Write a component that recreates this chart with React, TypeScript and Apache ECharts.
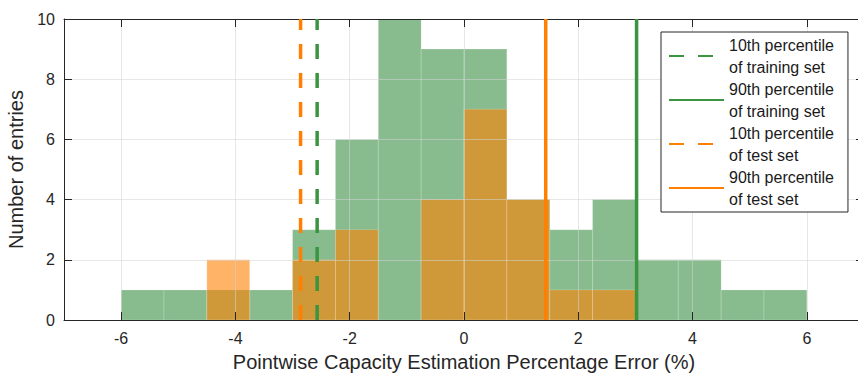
import React, { useEffect, useRef } from "react";
import * as echarts from "echarts";

// Histogram bin edges (bin width 0.75)
const binEdges = [-6, -5.25, -4.5, -3.75, -3, -2.25, -1.5, -0.75, 0, 0.75, 1.5, 2.25, 3, 3.75, 4.5, 5.25, 6];
const trainCounts = [1, 1, 1, 1, 3, 6, 10, 9, 9, 4, 3, 4, 2, 2, 1, 1];
const testCounts = [0, 0, 2, 0, 2, 3, 0, 4, 7, 4, 1, 1, 0, 0, 0, 0];

// Percentile lines
const train10 = -2.57;
const train90 = 3.02;
const test10 = -2.86;
const test90 = 1.43;

const xTicks = [-6, -4, -2, 0, 2, 4, 6];
const legendNames = [
  "10th percentile\nof training set",
  "90th percentile\nof training set",
  "10th percentile\nof test set",
  "90th percentile\nof test set",
];

const FONT = "'Liberation Sans', Arial, Helvetica, sans-serif";
const AXIS_COLOR = "#262626";
const GRID_COLOR = "rgba(212,212,212,0.55)";
const GREEN_LINE = "#3a9440";
const ORANGE_LINE = "#ff8000";

function histData(counts: number[]) {
  return counts.map((c, i) => [binEdges[i], binEdges[i + 1], c]);
}

function histSeries(name: string, counts: number[], fill: string, z: number) {
  return {
    name,
    type: "custom",
    z,
    data: histData(counts),
    encode: { x: [0, 1], y: 2 },
    renderItem: (params: any, api: any) => {
      const x0 = api.value(0);
      const x1 = api.value(1);
      const c = api.value(2);
      if (!c) return null;
      const p0 = api.coord([x0, c]);
      const p1 = api.coord([x1, 0]);
      return {
        type: "rect",
        shape: { x: p0[0], y: p0[1], width: p1[0] - p0[0], height: p1[1] - p0[1] },
        style: { fill, stroke: "rgba(255,255,255,0.18)", lineWidth: 1 },
      };
    },
  };
}

function vline(name: string, x: number, color: string, dashed: boolean) {
  return {
    name,
    type: "line",
    z: 5,
    symbol: "none",
    data: [
      [x, 0],
      [x, 10],
    ],
    lineStyle: { color, width: 3.5, type: dashed ? [15, 14] : "solid" },
    itemStyle: { color },
  };
}

export default function App() {
  const ref = useRef<HTMLDivElement>(null);
  useEffect(() => {
    if (!ref.current) return;
    const chart = echarts.init(ref.current, undefined, { renderer: "svg" });
    const tickStyle = { color: AXIS_COLOR, width: 1 };
    chart.setOption({
      animation: false,
      backgroundColor: "#ffffff",
      textStyle: { fontFamily: FONT },
      grid: { left: 64, width: 800, top: 19, bottom: 55, outerBoundsMode: "none", containLabel: false },
      xAxis: [
        {
          type: "value",
          position: "bottom",
          z: 4,
          min: -7,
          max: 7,
          name: "Pointwise Capacity Estimation Percentage Error (%)",
          nameLocation: "middle",
          nameGap: 32,
          nameTextStyle: { fontSize: 20, color: AXIS_COLOR, fontFamily: FONT },
          axisLine: { show: true, onZero: false, lineStyle: tickStyle },
          axisTick: { show: true, inside: true, length: 8, customValues: xTicks, lineStyle: tickStyle },
          axisLabel: { customValues: xTicks, fontSize: 16, color: AXIS_COLOR, margin: 10, fontFamily: FONT },
          splitLine: { show: true, lineStyle: { color: GRID_COLOR, width: 1 } },
        },
        {
          type: "value",
          position: "top",
          z: 4,
          min: -7,
          max: 7,
          axisLine: { show: true, onZero: false, lineStyle: tickStyle },
          axisTick: { show: true, inside: true, length: 8, customValues: xTicks, lineStyle: tickStyle },
          axisLabel: { show: false, customValues: xTicks },
          splitLine: { show: false },
        },
      ],
      yAxis: [
        {
          type: "value",
          position: "left",
          z: 4,
          min: 0,
          max: 10,
          interval: 2,
          name: "Number of entries",
          nameLocation: "middle",
          nameGap: 36,
          nameTextStyle: { fontSize: 20, color: AXIS_COLOR, fontFamily: FONT },
          axisLine: { show: true, onZero: false, lineStyle: tickStyle },
          axisTick: { show: true, inside: true, length: 8, lineStyle: tickStyle },
          axisLabel: { fontSize: 16, color: AXIS_COLOR, margin: 9, fontFamily: FONT },
          splitLine: { show: true, lineStyle: { color: GRID_COLOR, width: 1 } },
        },
        {
          type: "value",
          position: "right",
          z: 4,
          min: 0,
          max: 10,
          interval: 2,
          axisLine: { show: true, onZero: false, lineStyle: tickStyle },
          axisTick: { show: true, inside: true, length: 8, lineStyle: tickStyle },
          axisLabel: { show: false },
          splitLine: { show: false },
        },
      ],
      legend: {
        orient: "vertical",
        left: 661,
        top: 32,
        z: 10,
        padding: [2, 14, 2, 7],
        itemGap: 0,
        itemWidth: 55,
        itemHeight: 14,
        selectedMode: false,
        backgroundColor: "#ffffff",
        borderColor: AXIS_COLOR,
        borderWidth: 1,
        borderRadius: 0,
        itemStyle: { opacity: 0, color: "rgba(0,0,0,0)", borderWidth: 0 },
        textStyle: { fontSize: 16, lineHeight: 22, color: "#1a1a1a", fontFamily: FONT },
        data: legendNames,
      },
      series: [
        histSeries("Training set", trainCounts, "rgba(57,143,67,0.6)", 2),
        histSeries("Test set", testCounts, "rgba(255,128,0,0.6)", 3),
        vline(legendNames[0], train10, GREEN_LINE, true),
        vline(legendNames[1], train90, GREEN_LINE, false),
        vline(legendNames[2], test10, ORANGE_LINE, true),
        vline(legendNames[3], test90, ORANGE_LINE, false),
      ],
    });
    return () => chart.dispose();
  }, []);
  return (
    <div
      ref={ref}
      style={{ position: "fixed", left: 0, top: 0, width: 858, height: 375 }}
    />
  );
}
